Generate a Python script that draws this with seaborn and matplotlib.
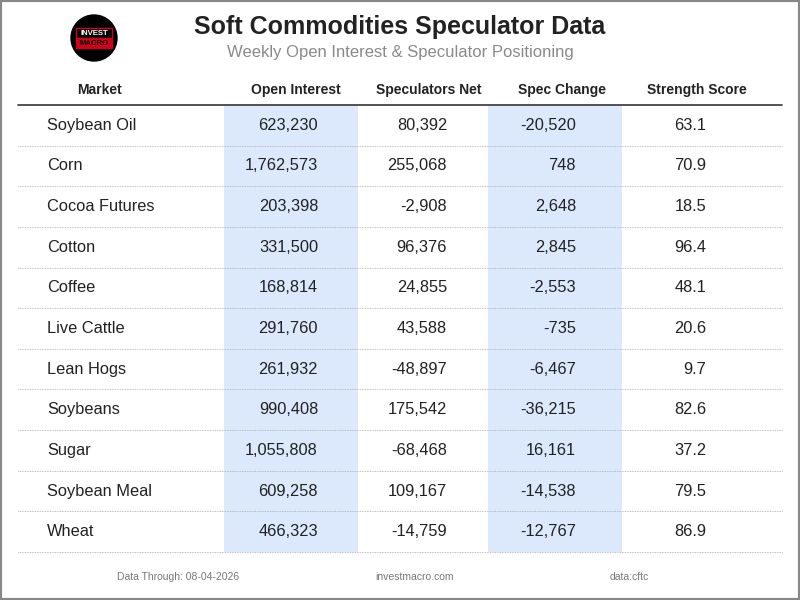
import numpy as np
import pandas as pd
import seaborn as sns
import matplotlib.pyplot as plt
from matplotlib.patches import Circle, Rectangle

# table data
markets = ["Soybean Oil", "Corn", "Cocoa Futures", "Cotton", "Coffee", "Live Cattle",
           "Lean Hogs", "Soybeans", "Sugar", "Soybean Meal", "Wheat"]
open_interest = [623230, 1762573, 203398, 331500, 168814, 291760,
                 261932, 990408, 1055808, 609258, 466323]
spec_net = [80392, 255068, -2908, 96376, 24855, 43588,
            -48897, 175542, -68468, 109167, -14759]
spec_change = [-20520, 748, 2648, 2845, -2553, -735,
               -6467, -36215, 16161, -14538, -12767]
strength = [63.1, 70.9, 18.5, 96.4, 48.1, 20.6, 9.7, 82.6, 37.2, 79.5, 86.9]
headers = ["Market", "Open Interest", "Speculators Net", "Spec Change", "Strength Score"]

title = "Soft Commodities Speculator Data"
subtitle = "Weekly Open Interest & Speculator Positioning"
footer = ["Data Through: 08-04-2026", "investmacro.com", "data:cftc"]

df = pd.DataFrame({"Market": markets, "Open Interest": open_interest,
                   "Speculators Net": spec_net, "Spec Change": spec_change,
                   "Strength Score": strength})

sns.set_theme(style="white")
plt.rcParams['font.family'] = ['Liberation Sans', 'DejaVu Sans']

fig = plt.figure(figsize=(8, 6), dpi=100)
ax = fig.add_axes([0, 0, 1, 1])
ax.set_xlim(0, 800)
ax.set_ylim(600, 0)
ax.axis("off")

# layout (pixel space)
col_edges = [18, 224, 358, 488, 622, 782]
head_x = [100, 296, 429, 562, 697]
val_x = [47, 318, 447, 576, 706]
top, bottom = 105, 552
n = len(df)
row_h = (bottom - top) / n
shade = "#dce8fc"

# shaded columns
for c in [1, 3]:
    ax.add_patch(Rectangle((col_edges[c], top + 1), col_edges[c + 1] - col_edges[c],
                           bottom - top - 1, color=shade, lw=0, zorder=0))

ax.plot([col_edges[0], col_edges[-1]], [top, top], color="#333333", lw=1.2)
for i in range(1, n + 1):
    y = top + i * row_h
    ax.plot([col_edges[0], col_edges[-1]], [y, y], color="#aaaaaa", lw=0.6,
            ls=(0, (1, 1)), zorder=1)

for h, x in zip(headers, head_x):
    ax.text(x, 90, h, ha="center", va="center", fontsize=10, fontweight="bold",
            color="#222222")

fs = 11.8
for i, row in df.iterrows():
    y = top + (i + 0.5) * row_h
    ax.text(val_x[0], y, row["Market"], ha="left", va="center", fontsize=fs, color="#222222")
    ax.text(val_x[1], y, f"{row['Open Interest']:,}", ha="right", va="center", fontsize=fs, color="#222222")
    ax.text(val_x[2], y, f"{row['Speculators Net']:,}", ha="right", va="center", fontsize=fs, color="#222222")
    ax.text(val_x[3], y, f"{row['Spec Change']:,}", ha="right", va="center", fontsize=fs, color="#222222")
    ax.text(val_x[4], y, f"{row['Strength Score']:.1f}", ha="right", va="center", fontsize=fs, color="#222222")

ax.text(400, 27, title, ha="center", va="center", fontsize=18, fontweight="bold", color="#222222")
ax.text(400, 53, subtitle, ha="center", va="center", fontsize=12, color="#8a8a8a")

# logo
ax.add_patch(Circle((94, 38), 23, color="black", zorder=3))
ax.add_patch(Rectangle((76, 28), 36, 10, fill=False, ec="#d0021b", lw=1, zorder=4))
ax.text(94, 33.2, "INVEST", ha="center", va="center", fontsize=5.6, fontweight="bold",
        color="white", zorder=5)
ax.add_patch(Rectangle((76, 38.5), 36, 9.5, color="#d0021b", zorder=4))
ax.text(94, 43.4, "MACRO", ha="center", va="center", fontsize=5.6, fontweight="bold",
        color="black", zorder=5)

for t, x in zip(footer, [178, 415, 629]):
    ax.text(x, 577, t, ha="center", va="center", fontsize=7.5, color="#777777",
            family=['Liberation Sans Narrow', 'Liberation Sans', 'DejaVu Sans'])

fig.patches.append(Rectangle((0, 0), 1, 1, transform=fig.transFigure, fill=False,
                             ec="#888888", lw=3))
fig.savefig("out.png", dpi=100)
